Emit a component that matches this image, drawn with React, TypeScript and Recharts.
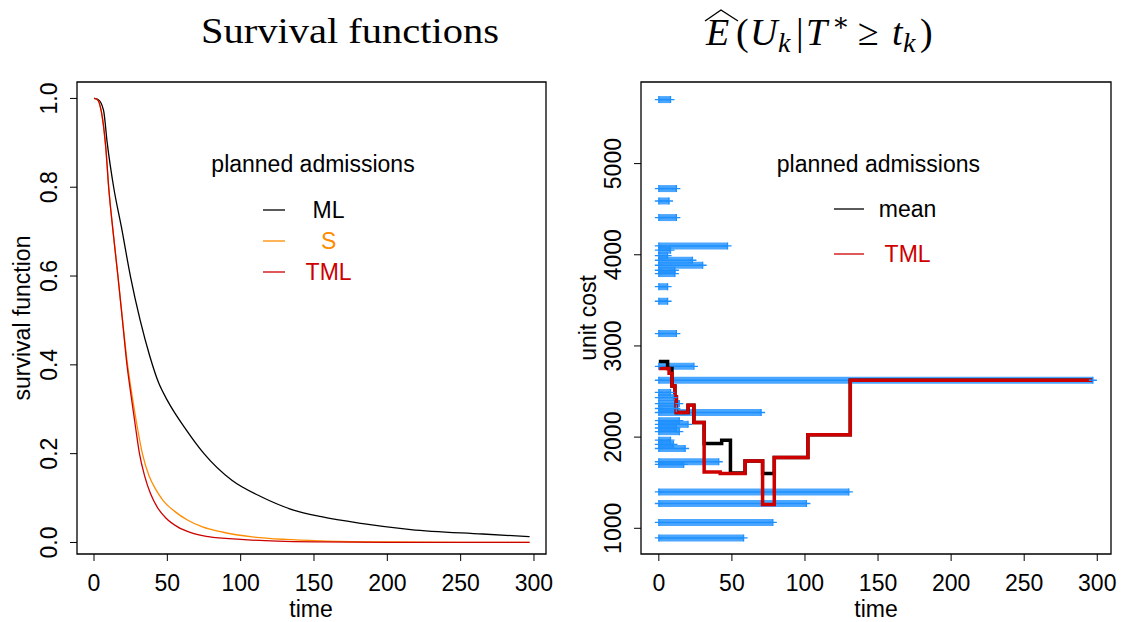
import React from "react";
import { ComposedChart, Line, XAxis, YAxis, ReferenceArea } from "recharts";

// axis ticks
const timeTicks = [0, 50, 100, 150, 200, 250, 300];
const survTicks = [0, 0.2, 0.4, 0.6, 0.8, 1.0];
const costTicks = [1000, 2000, 3000, 4000, 5000];

// survival curves (left panel)
const mlTime = [0, 3, 6.5, 9, 13.4, 18.7, 24.8, 31.5, 38, 44, 50, 63, 75, 94, 114, 136, 155, 182, 216, 265, 297];
const mlSurv = [1, 0.997, 0.973, 0.9, 0.8, 0.71, 0.6, 0.5, 0.42, 0.36, 0.32, 0.253, 0.2, 0.14, 0.103, 0.073, 0.058, 0.043, 0.029, 0.019, 0.013];

const sTime = [0, 2, 4, 6, 8, 10, 13, 16.3, 19.5, 22.5, 26, 29.5, 33, 37.5, 42, 47, 55, 64, 74, 88, 108, 131, 155, 200, 250, 297];
const sSurv = [1, 0.998, 0.985, 0.95, 0.89, 0.8, 0.7, 0.6, 0.5, 0.41, 0.33, 0.26, 0.2, 0.15, 0.12, 0.095, 0.07, 0.05, 0.035, 0.023, 0.0126, 0.0068, 0.0036, 0.0012, 0.0003, 0.0001];

const tmlTime = [0, 2, 4, 6, 8, 10, 13, 16.3, 19.4, 22.3, 25.3, 28.3, 31, 34.5, 38.5, 43, 49, 57, 66, 78, 100, 125, 155, 200, 297];
const tmlSurv = [1, 0.998, 0.985, 0.95, 0.89, 0.8, 0.7, 0.6, 0.5, 0.405, 0.33, 0.26, 0.2, 0.15, 0.11, 0.08, 0.055, 0.035, 0.022, 0.013, 0.0068, 0.003, 0.0012, 0.0003, 0];

// observed unit costs (right panel): cost level and last time it is seen
const rowCost = [5702, 4726, 4590, 4408, 4097, 4050, 3990, 3940, 3885, 3830, 3794, 3650, 3490, 3136, 2777, 2624, 2490, 2434, 2368, 2314, 2270, 2180, 2140, 2100, 2060, 1966, 1920, 1875, 1730, 1700, 1399, 1272, 1064, 894];
const rowLast = [8, 12, 7, 12, 47, 8, 6, 23, 30, 11, 11, 6, 6, 12, 24, 297, 8, 10, 14, 12, 70, 14, 20, 12, 14, 8, 10, 18, 41, 17, 130, 101, 78, 58];

// conditional expected cost, step functions
const meanTime = [0, 6, 9, 11, 12, 20, 24, 31, 43, 49, 59, 71, 79, 102, 131, 297];
const meanCost = [2830, 2752, 2560, 2440, 2270, 2350, 2160, 1930, 1966, 1607, 1739, 1600, 1776, 2025, 2624, 2624];
const tmlCostTime = [0, 7, 9, 11, 12, 20, 24, 31, 42, 59, 71, 79, 102, 131, 297];
const tmlCost = [2752, 2700, 2560, 2440, 2270, 2350, 2160, 1618, 1600, 1739, 1260, 1776, 2025, 2624, 2624];

const BLACK = "#000000";
const ORANGE = "#FF8C00";
const RED = "#CD0000";
const BLUE = "#1E90FF";

const SANS = "'Liberation Sans', Arial, Helvetica, sans-serif";
const SERIF = "'Liberation Serif', 'DejaVu Serif', serif";

const survX: [number, number] = [-11.6, 308.2];
const survY: [number, number] = [-0.026, 1.037];
const costX: [number, number] = [-12.2, 309.4];
const costY: [number, number] = [718, 5895];

const pts = (xs: number[], ys: number[]) => xs.map((t, i) => ({ t, v: ys[i] }));

const XTick = ({ x, y, payload }: any) => (
  <text x={x} y={y} dy={28} textAnchor="middle" fontFamily={SANS} fontSize={23} fill="#000">
    {payload.value}
  </text>
);

const makeYTick = (fmt: (v: number) => string) => ({ x, y, payload }: any) => (
  <text
    x={x}
    y={y}
    dy={-11}
    transform={`rotate(-90 ${x} ${y})`}
    textAnchor="middle"
    fontFamily={SANS}
    fontSize={23}
    fill="#000"
  >
    {fmt(payload.value)}
  </text>
);

const PlusEnd = (p: any) => {
  const { cx, cy, index } = p;
  if (cx == null || cy == null) return <g key={index} />;
  return (
    <path
      key={index}
      d={`M${cx - 4},${cy}H${cx + 4}M${cx},${cy - 3.5}V${cy + 3.5}`}
      stroke={BLUE}
      strokeWidth={1.3}
      fill="none"
    />
  );
};

const SurvivalPanel = () => (
  <ComposedChart width={560} height={622} margin={{ top: 82, right: 14, bottom: 8, left: 17 }}>
    <XAxis
      type="number"
      dataKey="t"
      domain={survX}
      ticks={timeTicks}
      allowDataOverflow
      axisLine={false}
      tickLine={{ stroke: "#000" }}
      tickSize={7}
      tickMargin={2}
      height={60}
      tick={<XTick />}
    />
    <YAxis
      type="number"
      domain={survY}
      ticks={survTicks}
      allowDataOverflow
      axisLine={false}
      tickLine={{ stroke: "#000" }}
      tickSize={7}
      tickMargin={2}
      width={60}
      tick={makeYTick((v) => v.toFixed(1))}
    />
    <ReferenceArea x1={survX[0]} x2={survX[1]} y1={survY[0]} y2={survY[1]} fill="none" stroke="#000" strokeWidth={1.3} />
    <Line data={pts(mlTime, mlSurv)} dataKey="v" type="monotone" stroke={BLACK} strokeWidth={1.3} dot={false} isAnimationActive={false} />
    <Line data={pts(sTime, sSurv)} dataKey="v" type="monotone" stroke={ORANGE} strokeWidth={1.3} dot={false} isAnimationActive={false} />
    <Line data={pts(tmlTime, tmlSurv)} dataKey="v" type="monotone" stroke={RED} strokeWidth={1.3} dot={false} isAnimationActive={false} />
  </ComposedChart>
);

const CostPanel = () => (
  <ComposedChart width={561} height={622} margin={{ top: 82, right: 10, bottom: 8, left: 21 }}>
    <XAxis
      type="number"
      dataKey="t"
      domain={costX}
      ticks={timeTicks}
      allowDataOverflow
      axisLine={false}
      tickLine={{ stroke: "#000" }}
      tickSize={7}
      tickMargin={2}
      height={60}
      tick={<XTick />}
    />
    <YAxis
      type="number"
      domain={costY}
      ticks={costTicks}
      allowDataOverflow
      axisLine={false}
      tickLine={{ stroke: "#000" }}
      tickSize={7}
      tickMargin={2}
      width={60}
      tick={makeYTick((v) => String(v))}
    />
    <ReferenceArea x1={costX[0]} x2={costX[1]} y1={costY[0]} y2={costY[1]} fill="none" stroke="#000" strokeWidth={1.3} />
    {rowCost.map((c, i) => (
      <Line
        key={`band${i}`}
        data={[{ t: 0, v: c }, { t: rowLast[i], v: c }]}
        dataKey="v"
        type="linear"
        stroke={BLUE}
        strokeOpacity={0.8}
        strokeWidth={7}
        dot={false}
        isAnimationActive={false}
      />
    ))}
    {rowCost.map((c, i) => (
      <Line
        key={`arm${i}`}
        data={[{ t: 0, v: c }, { t: rowLast[i], v: c }]}
        dataKey="v"
        type="linear"
        stroke={BLUE}
        strokeWidth={1.5}
        dot={PlusEnd}
        isAnimationActive={false}
      />
    ))}
    <Line data={pts(meanTime, meanCost)} dataKey="v" type="stepAfter" stroke={BLACK} strokeWidth={3.5} dot={false} isAnimationActive={false} />
    <Line data={pts(tmlCostTime, tmlCost)} dataKey="v" type="stepAfter" stroke={RED} strokeWidth={3.5} dot={false} isAnimationActive={false} />
  </ComposedChart>
);

const Overlay = () => (
  <svg width={1121} height={622} style={{ position: "absolute", left: 0, top: 0, pointerEvents: "none" }}>
    {/* titles */}
    <text x={350} y={43} textAnchor="middle" fontFamily={SERIF} fontSize={36} textLength={298} lengthAdjust="spacingAndGlyphs">
      Survival functions
    </text>
    <path d="M705,21 L721,10 L738,21" stroke="#000" strokeWidth={1.4} fill="none" />
    <text y={45} fontFamily={SERIF} fontSize={38}>
      <tspan x={706} fontStyle="italic">E</tspan>
      <tspan x={736}>(</tspan>
      <tspan x={750} fontStyle="italic">U</tspan>
      <tspan x={778} fontStyle="italic" fontSize={28} dy={7}>k</tspan>
      <tspan x={796} dy={-7}>|</tspan>
      <tspan x={806} fontStyle="italic">T</tspan>
      <tspan x={832} fontSize={26} dy={-14}>∗</tspan>
      <tspan x={858} dy={14}>≥</tspan>
      <tspan x={892} fontStyle="italic">t</tspan>
      <tspan x={903} fontStyle="italic" fontSize={28} dy={7}>k</tspan>
      <tspan x={920} dy={-7}>)</tspan>
    </text>

    {/* axis titles */}
    <text x={311} y={617} textAnchor="middle" fontFamily={SANS} fontSize={23}>time</text>
    <text x={876} y={617} textAnchor="middle" fontFamily={SANS} fontSize={23}>time</text>
    <text transform="rotate(-90 30 318)" x={30} y={318} textAnchor="middle" fontFamily={SANS} fontSize={23}>survival function</text>
    <text transform="rotate(-90 596 318)" x={596} y={318} textAnchor="middle" fontFamily={SANS} fontSize={23}>unit cost</text>

    {/* legend, left */}
    <text x={313} y={172} textAnchor="middle" fontFamily={SANS} fontSize={23}>planned admissions</text>
    <line x1={263} x2={285} y1={210} y2={210} stroke={BLACK} strokeWidth={1.3} />
    <line x1={263} x2={285} y1={241} y2={241} stroke={ORANGE} strokeWidth={1.3} />
    <line x1={263} x2={285} y1={272} y2={272} stroke={RED} strokeWidth={1.3} />
    <text x={328.6} y={218} textAnchor="middle" fontFamily={SANS} fontSize={23} fill={BLACK}>ML</text>
    <text x={328.6} y={249} textAnchor="middle" fontFamily={SANS} fontSize={23} fill={ORANGE}>S</text>
    <text x={328.6} y={280} textAnchor="middle" fontFamily={SANS} fontSize={23} fill={RED}>TML</text>

    {/* legend, right */}
    <text x={878.4} y={172} textAnchor="middle" fontFamily={SANS} fontSize={23}>planned admissions</text>
    <line x1={834} x2={864} y1={209} y2={209} stroke={BLACK} strokeWidth={1.3} />
    <line x1={834} x2={864} y1={254} y2={254} stroke={RED} strokeWidth={1.3} />
    <text x={907.6} y={217} textAnchor="middle" fontFamily={SANS} fontSize={23} fill={BLACK}>mean</text>
    <text x={907.6} y={262} textAnchor="middle" fontFamily={SANS} fontSize={23} fill={RED}>TML</text>
  </svg>
);

export default function App() {
  return (
    <div style={{ position: "absolute", left: 0, top: 0, width: 1121, height: 622, background: "#fff", overflow: "hidden" }}>
      <div style={{ position: "absolute", left: 0, top: 0 }}>
        <SurvivalPanel />
      </div>
      <div style={{ position: "absolute", left: 560, top: 0 }}>
        <CostPanel />
      </div>
      <Overlay />
    </div>
  );
}
